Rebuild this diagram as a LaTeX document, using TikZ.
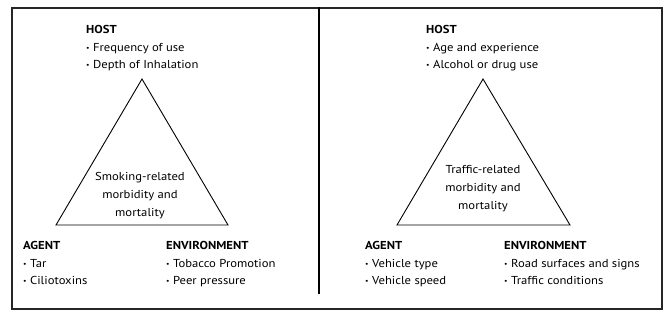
\documentclass[tikz,border=0pt]{standalone}
\usepackage{fontspec}
\setmainfont{PT Sans}[FakeStretch=1.1]
\newcommand{\bul}{{\fontsize{7}{7}\selectfont\raisebox{0.3ex}{\textbullet}}\hspace{0.3em}}
\begin{document}
\begin{tikzpicture}[x=1pt,y=-1pt,
  lbl/.style={inner sep=0pt, anchor=north west, align=left, font=\fontsize{11.5}{17.5}\selectfont},
  ctr/.style={inner sep=0pt, anchor=north, align=center, font=\fontsize{11.5}{18}\selectfont},
  tri/.style={draw=black, line width=0.9pt, line join=miter},
  frame/.style={draw=black!85, line width=2pt},
  divider/.style={draw=black, line width=1.4pt}]
\useasboundingbox (0,0) rectangle (668,314);
% frame
\node[frame, inner sep=0pt, minimum width=650pt, minimum height=301pt, anchor=north west] (box) at (11,7) {};
\coordinate (dtop) at (319,7);
\coordinate (dbot) at (319,294);
\draw[divider] (dtop) -- (dbot);
% left triangle
\coordinate (la) at (142,79);
\coordinate (lb) at (56,225);
\coordinate (lc) at (228,225);
\draw[tri] (la) -- (lb) -- (lc) -- cycle;
% right triangle
\coordinate (ra) at (483,79);
\coordinate (rb) at (397,225);
\coordinate (rc) at (570,225);
\draw[tri] (ra) -- (rb) -- (rc) -- cycle;
% left texts
\node[lbl] (lhost) at (86,25.5) {\textbf{HOST}\\\bul Frequency of use\\\bul Depth of Inhalation};
\node[lbl] (lagent) at (23,241.5) {\textbf{AGENT}\\\bul Tar\\\bul Ciliotoxins};
\node[lbl] (lenv) at (166,241.5) {\textbf{ENVIRONMENT}\\\bul Tobacco Promotion\\\bul Peer pressure};
\node[ctr] (lcenter) at (140,172) {Smoking-related\\morbidity and\\mortality};
% right texts
\node[lbl] (rhost) at (426,25.5) {\textbf{HOST}\\\bul Age and experience\\\bul Alcohol or drug use};
\node[lbl] (ragent) at (365,241.5) {\textbf{AGENT}\\\bul Vehicle type\\\bul Vehicle speed};
\node[lbl] (renv) at (504,241.5) {\textbf{ENVIRONMENT}\\\bul Road surfaces and signs\\\bul Traffic conditions};
\node[ctr] (rcenter) at (483,165.5) {Traffic-related\\morbidity and\\mortality};
\end{tikzpicture}
\end{document}
